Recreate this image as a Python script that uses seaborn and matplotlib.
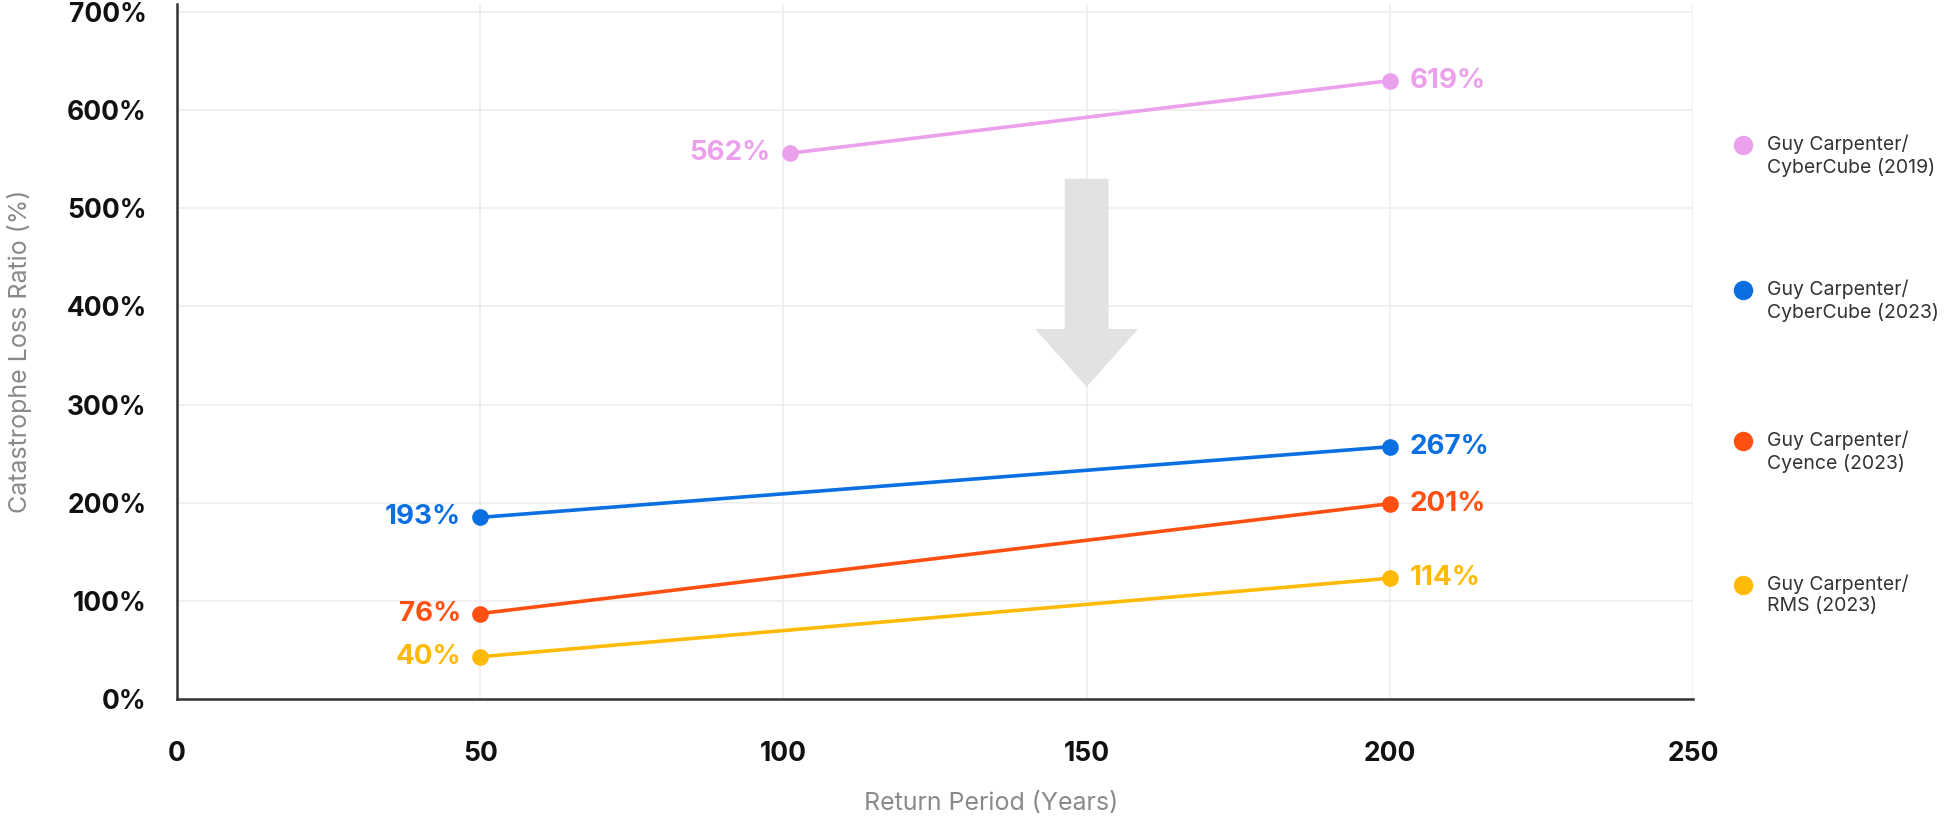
import pandas as pd
import matplotlib.pyplot as plt
from matplotlib.patches import FancyArrow
import matplotlib.ticker as mticker
import seaborn as sns

# ── DATA ──────────────────────────────────────────────────────────────────────
series_names = ["Guy Carpenter/\nCyberCube (2019)",
                "Guy Carpenter/\nCyberCube (2023)",
                "Guy Carpenter/\nCyence (2023)",
                "Guy Carpenter/\nRMS (2023)"]
series_colors = ["#EBA0EC", "#0A6FE0", "#FF5012", "#FFBA08"]

pink_x   = [101, 200]
pink_y   = [556, 630]
pink_lbl = ["562%", "619%"]

blue_x   = [50, 200]
blue_y   = [185, 257]
blue_lbl = ["193%", "267%"]

orange_x   = [50, 200]
orange_y   = [87, 199]
orange_lbl = ["76%", "201%"]

yellow_x   = [50, 200]
yellow_y   = [43, 123]
yellow_lbl = ["40%", "114%"]

x_ticks = [0, 50, 100, 150, 200, 250]
y_ticks = [0, 100, 200, 300, 400, 500, 600, 700]

# arrow (return period, loss ratio)
arrow_x, arrow_top, arrow_tip = 150, 530, 318

# ── PLOT ──────────────────────────────────────────────────────────────────────
sns.set_theme(style="white")
plt.rcParams["font.family"] = ["Inter", "DejaVu Sans"]

frames = []
for name, xs, ys in zip(series_names,
                        [pink_x, blue_x, orange_x, yellow_x],
                        [pink_y, blue_y, orange_y, yellow_y]):
    frames.append(pd.DataFrame({"period": xs, "ratio": ys, "series": name}))
df = pd.concat(frames, ignore_index=True)

fig, ax = plt.subplots(figsize=(19.46, 8.17), dpi=100)
fig.subplots_adjust(left=0.091, right=0.870, bottom=0.1445, top=0.995)

ax.set_axisbelow(True)
ax.grid(True, color="#EDEDED", linewidth=1.2)

sns.lineplot(data=df, x="period", y="ratio", hue="series",
             palette=dict(zip(series_names, series_colors)),
             marker="o", markersize=12, markeredgewidth=0,
             linewidth=2.6, legend=False, ax=ax, zorder=3)

ax.add_patch(FancyArrow(arrow_x, arrow_top, 0, arrow_tip - arrow_top,
                        width=7.2, head_width=17, head_length=59,
                        length_includes_head=True, color="#E2E2E2",
                        linewidth=0, zorder=2))

# data labels
for xs, ys, lbls, c in zip([pink_x, blue_x, orange_x, yellow_x],
                           [pink_y, blue_y, orange_y, yellow_y],
                           [pink_lbl, blue_lbl, orange_lbl, yellow_lbl],
                           series_colors):
    ax.annotate(lbls[0], (xs[0], ys[0]), xytext=(-14, 0), textcoords="offset points",
                ha="right", va="center", color=c, fontsize=20, fontweight="bold")
    ax.annotate(lbls[1], (xs[1], ys[1]), xytext=(14, 0), textcoords="offset points",
                ha="left", va="center", color=c, fontsize=20, fontweight="bold")

ax.set_xlim(0, 250)
ax.set_ylim(0, 708)
ax.set_xticks(x_ticks)
ax.set_yticks(y_ticks)
ax.yaxis.set_major_formatter(mticker.FuncFormatter(lambda v, _: f"{int(v)}%"))
ax.tick_params(axis="x", length=0, pad=30, labelsize=19, labelcolor="#111111")
ax.tick_params(axis="y", length=0, pad=22, labelsize=19, labelcolor="#111111")
for lab in ax.get_xticklabels() + ax.get_yticklabels():
    lab.set_fontweight("bold")

ax.set_xlabel("Return Period (Years)", fontsize=18, color="#8A8A8A", va="center")
ax.xaxis.set_label_coords(0.537, -0.151)
ax.set_ylabel("Catastrophe Loss Ratio (%)", fontsize=18, color="#8A8A8A", va="center")
ax.yaxis.set_label_coords(-0.104, 0.5)

sns.despine(ax=ax)
for side in ["left", "bottom"]:
    ax.spines[side].set_color("#333333")
    ax.spines[side].set_linewidth(1.8)

# legend, laid out by hand: dot beside the first line of each entry
leg_y = [0.797, 0.588, 0.371, 0.164]
for name, c, y in zip(series_names, series_colors, leg_y):
    ax.plot([1.033], [y], marker="o", markersize=13, color=c, linestyle="",
            transform=ax.transAxes, clip_on=False)
    ax.text(1.049, y + 0.0155, name, transform=ax.transAxes, ha="left", va="top",
            fontsize=14, color="#333333", linespacing=1.25)

plt.savefig("out.png", dpi=100)
plt.close()
